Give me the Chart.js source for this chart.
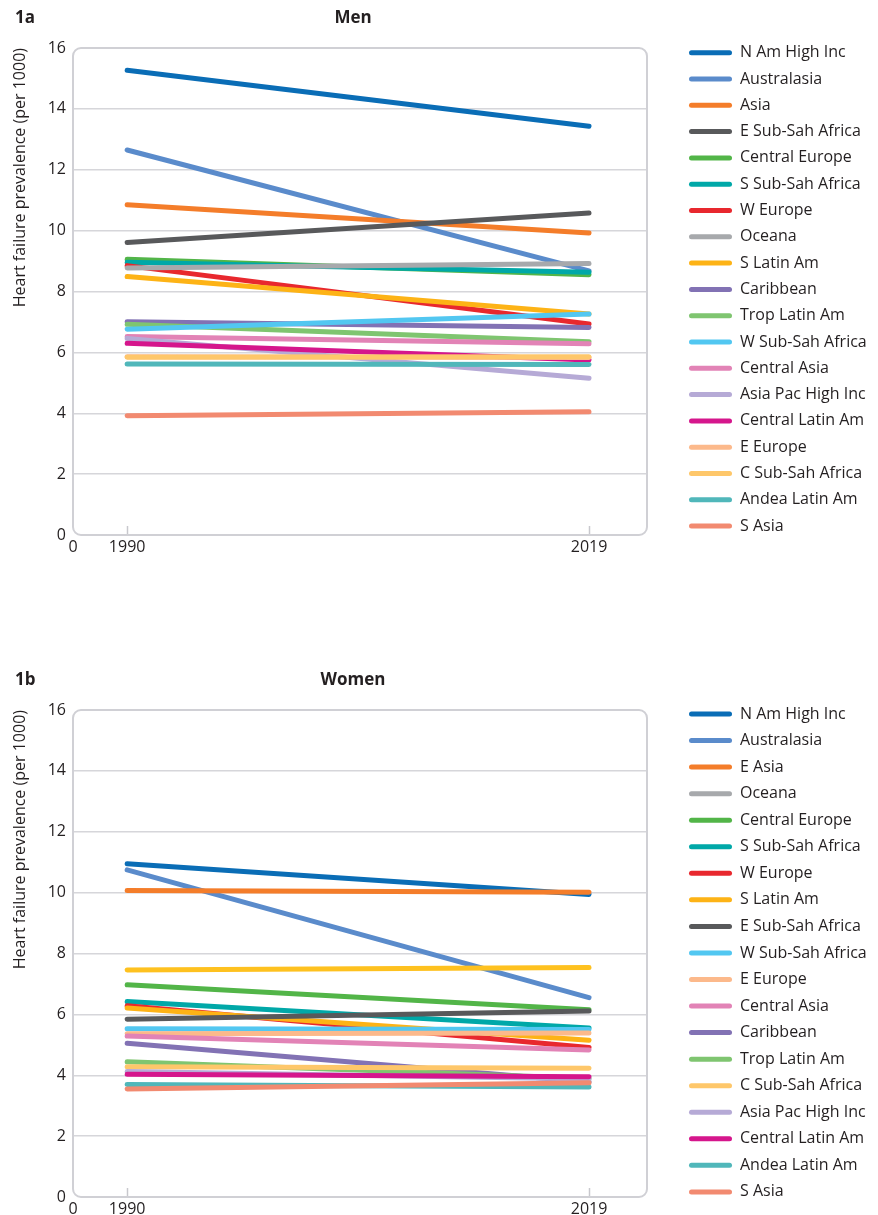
<!DOCTYPE html>
<html>
<head>
<meta charset="utf-8">
<title>Heart failure prevalence by region, 1990 and 2019</title>
<script src="https://cdn.jsdelivr.net/npm/chart.js@4.4.1/dist/chart.umd.min.js"></script>
<style>
  html, body { margin: 0; padding: 0; background: #fff; overflow: hidden; }
  body { width: 878px; height: 1215px; position: relative; font-family: "Open Sans", sans-serif; color: #231f20; }
  .panel { position: absolute; left: 0; width: 878px; height: 600px; }
  .panel canvas { position: absolute; left: 0; top: 0; }
  .tag, .heading { position: absolute; top: 5px; font-weight: 700; font-size: 17px; line-height: 24px; margin: 0; }
  .tag { left: 15px; }
  .heading { left: 253px; width: 200px; text-align: center; }
</style>
</head>
<body>
<div class="panel" style="top:0">
  <canvas id="men" width="878" height="600"></canvas>
  <div class="tag">1a</div>
  <div class="heading">Men</div>
</div>
<div class="panel" style="top:662px">
  <canvas id="women" width="878" height="600"></canvas>
  <div class="tag">1b</div>
  <div class="heading">Women</div>
</div>
<script>
// Survey years and the x axis labels ("0" marks the left end of the broken axis)
const years = [1990, 2019];
const xTickLabels = ['0', '1990', '2019'];

// Men: heart failure prevalence per 1000, regions listed by 1990 value
const menRegions = ['N Am High Inc', 'Australasia', 'Asia', 'E Sub-Sah Africa', 'Central Europe',
  'S Sub-Sah Africa', 'W Europe', 'Oceana', 'S Latin Am', 'Caribbean', 'Trop Latin Am',
  'W Sub-Sah Africa', 'Central Asia', 'Asia Pac High Inc', 'Central Latin Am', 'E Europe',
  'C Sub-Sah Africa', 'Andea Latin Am', 'S Asia'];
const men1990 = [15.27, 12.65, 10.85, 9.61, 9.06, 8.96, 8.85, 8.77, 8.49, 7.01, 6.92,
  6.76, 6.52, 6.46, 6.30, 5.86, 5.84, 5.62, 3.92];
const men2019 = [13.43, 8.68, 9.92, 10.58, 8.55, 8.63, 6.93, 8.92, 7.26, 6.82, 6.35,
  7.26, 6.28, 5.15, 5.75, 5.83, 5.86, 5.60, 4.05];

// Women: heart failure prevalence per 1000, regions listed by 1990 value
const womenRegions = ['N Am High Inc', 'Australasia', 'E Asia', 'Oceana', 'Central Europe',
  'S Sub-Sah Africa', 'W Europe', 'S Latin Am', 'E Sub-Sah Africa', 'W Sub-Sah Africa',
  'E Europe', 'Central Asia', 'Caribbean', 'Trop Latin Am', 'C Sub-Sah Africa',
  'Asia Pac High Inc', 'Central Latin Am', 'Andea Latin Am', 'S Asia'];
const women1990 = [10.95, 10.75, 10.07, 7.46, 6.97, 6.42, 6.28, 6.21, 5.84, 5.53,
  5.36, 5.29, 5.05, 4.44, 4.28, 4.12, 4.03, 3.70, 3.55];
const women2019 = [9.94, 6.55, 10.01, 7.54, 6.15, 5.55, 4.91, 5.15, 6.11, 5.50,
  5.39, 4.83, 3.78, 3.89, 4.23, 3.88, 3.95, 3.61, 3.75];

// Region colours (legend swatches and lines)
const regionColors = {
  'N Am High Inc': '#0a6db6',
  'Australasia': '#5a8bcb',
  'Asia': '#f47d2a',
  'E Asia': '#f47d2a',
  'E Sub-Sah Africa': '#58595b',
  'Central Europe': '#52b548',
  'S Sub-Sah Africa': '#00a8a8',
  'W Europe': '#e8282e',
  'Oceana': '#a7a9ac',
  'S Latin Am': '#fdb316',
  'Caribbean': '#8272b4',
  'Trop Latin Am': '#7fc570',
  'W Sub-Sah Africa': '#52c7f1',
  'Central Asia': '#e283b6',
  'Asia Pac High Inc': '#b6aad6',
  'Central Latin Am': '#d5168c',
  'E Europe': '#fcb98b',
  'C Sub-Sah Africa': '#fec76a',
  'Andea Latin Am': '#50b7ba',
  'S Asia': '#f28a70'
};
// In the women's panel the Oceana line is drawn in gold
const womenLineColors = { 'Oceana': '#fec11f' };

const FONT = '"Open Sans", sans-serif';
const TEXT = '#231f20';
Chart.defaults.font.family = FONT;
Chart.defaults.color = TEXT;

// Moves the legend block to a fixed spot beside the plot and lets it run to the canvas edge
const legendPlacement = {
  id: 'legendPlacement',
  afterLayout(chart, args, opts) {
    const lg = chart.legend;
    const dy = opts.top - lg.top;
    lg.left = opts.left;
    lg.right = chart.width;
    lg.width = lg.right - lg.left;
    lg.top += dy;
    lg.bottom += dy;
  }
};

// Rounded light-grey frame round the plotting area
const plotFrame = {
  id: 'plotFrame',
  beforeDatasetsDraw(chart, args, opts) {
    const { left, top, right, bottom } = chart.chartArea;
    const ctx = chart.ctx;
    ctx.save();
    ctx.strokeStyle = opts.color;
    ctx.lineWidth = opts.width;
    ctx.beginPath();
    ctx.roundRect(left, top, right - left, bottom - top, opts.radius);
    ctx.stroke();
    ctx.restore();
  }
};

const PLOT_RIGHT = 647;
const PLOT_BOTTOM = 535;

function makeChart(id, regions, start, end, lineColors, legendGap, legendTop) {
  const datasets = regions.map((name, i) => {
    const legendColor = regionColors[name];
    const lineColor = lineColors[name] || legendColor;
    return {
      label: name,
      data: years.map((yr, k) => ({ x: yr, y: k === 0 ? start[i] : end[i] })),
      borderColor: lineColor,
      backgroundColor: lineColor,
      legendColor: legendColor,
      borderWidth: 5,
      borderCapStyle: 'round',
      pointRadius: 0,
      pointHoverRadius: 0,
      tension: 0,
      fill: false,
      order: -i
    };
  });

  return new Chart(document.getElementById(id), {
    type: 'line',
    data: { datasets },
    options: {
      responsive: false,
      animation: false,
      events: [],
      layout: { padding: { top: 48, left: 0, right: 0, bottom: 0 } },
      scales: {
        x: {
          type: 'linear',
          position: 'bottom',
          min: 1986.6,
          max: 2022.64,
          afterBuildTicks: s => { s.ticks = [s.min, ...years].map(v => ({ value: v })); },
          afterFit: s => { s.height = s.chart.height - PLOT_BOTTOM; },
          ticks: {
            callback: (v, i) => xTickLabels[i],
            autoSkip: false,
            maxRotation: 0,
            padding: 12,
            color: TEXT,
            font: { family: FONT, size: 16 }
          },
          grid: {
            drawOnChartArea: false,
            drawTicks: true,
            tickLength: -9,
            tickWidth: 1.5,
            tickColor: c => c.index === 0 ? 'rgba(0,0,0,0)' : '#c8c8cd',
            color: 'rgba(0,0,0,0)'
          },
          border: { display: false }
        },
        y: {
          min: 0,
          max: 16,
          afterFit: s => { s.width = 73; },
          ticks: { stepSize: 2, padding: 7, color: TEXT, font: { family: FONT, size: 16 } },
          grid: {
            drawTicks: false,
            lineWidth: 1.5,
            color: c => (c.tick.value === 0 || c.tick.value === 16) ? 'rgba(0,0,0,0)' : '#d6d6da'
          },
          border: { display: false },
          title: {
            display: true,
            text: 'Heart failure prevalence (per 1000)',
            align: 'end',
            color: TEXT,
            font: { family: FONT, size: 16 },
            padding: { top: 11, bottom: 0 }
          }
        },
        gap: {
          position: 'right',
          display: true,
          grid: { display: false },
          ticks: { display: false },
          border: { display: false },
          afterFit: s => { s.width = Math.max(0, s.chart.width - PLOT_RIGHT - s.chart.legend.width); }
        }
      },
      plugins: {
        legend: {
          position: 'right',
          align: 'start',
          labels: {
            boxWidth: 43,
            boxHeight: 5,
            padding: legendGap,
            color: TEXT,
            font: { family: FONT, size: 16 },
            sort: (a, b) => a.datasetIndex - b.datasetIndex,
            generateLabels(chart) {
              const items = Chart.defaults.plugins.legend.labels.generateLabels(chart);
              items.forEach(it => {
                const ds = chart.data.datasets[it.datasetIndex];
                it.fillStyle = ds.legendColor;
                it.strokeStyle = ds.legendColor;
                it.lineWidth = 0;
                it.borderRadius = 2.5;
              });
              return items;
            }
          }
        },
        tooltip: { enabled: false },
        legendPlacement: { left: 689 - legendGap, top: legendTop },
        plotFrame: { color: '#d0d0d5', width: 2, radius: 8 }
      }
    },
    plugins: [legendPlacement, plotFrame]
  });
}

makeChart('men', menRegions, men1990, men2019, {}, 10.3, 52.7 - 8 - 10.3);
makeChart('women', womenRegions, women1990, women2019, womenLineColors, 10.55, 52.0 - 8 - 10.55);
</script>
</body>
</html>
